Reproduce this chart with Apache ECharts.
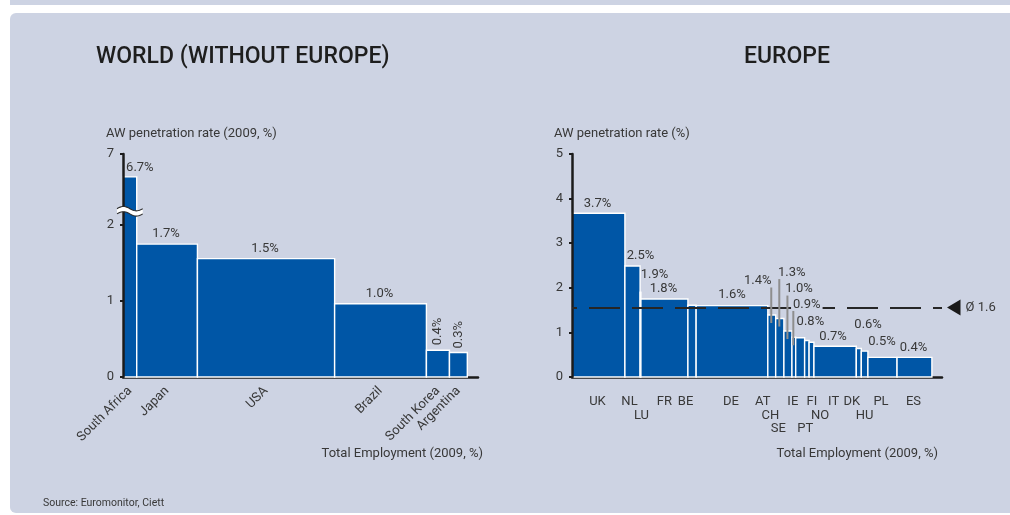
<!DOCTYPE html>
<html>
<head>
<meta charset="utf-8">
<script src="https://cdn.jsdelivr.net/npm/echarts@6/dist/echarts.min.js"></script>
<style>
html,body{margin:0;padding:0;background:#ffffff;}
#wrap{position:relative;width:1010px;height:515px;overflow:hidden;}
#strip{position:absolute;left:10px;top:0;width:1000px;height:5px;background:#cdd3e3;}
#panel{position:absolute;left:10px;top:13px;width:1000px;height:500px;background:#cdd3e3;border-radius:6px 0 0 6px;}
#c{position:absolute;left:0;top:0;width:1010px;height:515px;}
</style>
</head>
<body>
<div id="wrap"><div id="strip"></div><div id="panel"></div><div id="c"></div></div>
<script>
// ---------------- DATA ----------------
// World (without Europe): employment (millions) sets bar width, AW penetration rate sets height
const worldCountries = ['South Africa', 'Japan', 'USA', 'Brazil', 'South Korea', 'Argentina'];
const worldEmployment = [14.0, 61.9, 139.9, 93.6, 23.5, 18.2];
const worldRates = [6.7, 1.74, 1.55, 0.96, 0.35, 0.32];
const worldRateLabels = ['6.7%', '1.7%', '1.5%', '1.0%', '0.4%', '0.3%'];
const worldYTicks = [0, 1, 2, 7];

// Europe
const europeCountries = ['UK', 'NL', 'LU', 'FR', 'BE', 'DE', 'AT', 'CH', 'SE', 'IE', 'PT', 'FI', 'NO', 'IT', 'DK', 'HU', 'PL', 'ES'];
const europeEmployment = [29.6, 8.5, 0.45, 26.3, 4.6, 40.1, 4.4, 4.6, 4.5, 2.1, 5.0, 2.5, 2.7, 23.7, 2.8, 3.7, 16.3, 19.5];
const europeRates = [3.67, 2.49, 1.9, 1.75, 1.61, 1.6, 1.39, 1.31, 1.03, 0.89, 0.88, 0.82, 0.78, 0.69, 0.64, 0.58, 0.44, 0.44];
const europeRateLabels = ['3.7%', '2.5%', '1.9%', '1.8%', '', '1.6%', '1.4%', '1.3%', '1.0%', '0.9%', '', '0.8%', '', '0.7%', '', '0.6%', '0.5%', '0.4%'];
const europeAverage = 1.56;
const europeYTicks = [0, 1, 2, 3, 4, 5];

// ---------------- LAYOUT / STYLE ----------------
const BLUE = '#0056a6';
const TEXT = '#383838';
const AXIS = '#1b1b1b';
const FONT = 'Roboto';
const BREAK_LO = 2.17, BREAK_HI = 6.25;           // broken y-axis of the world chart
function toDisplay(v) { return v <= BREAK_LO ? v : v - (BREAK_HI - BREAK_LO); }
function fromDisplay(d) { return d <= BREAK_LO ? d : d + (BREAK_HI - BREAK_LO); }

// value label offsets (px) from bar top-centre
const worldValueLabelLayout = {
  'South Africa': { dx: 10, dy: -9 },
  'South Korea': { dx: 0, dy: -5, vertical: true },
  'Argentina': { dx: 0, dy: -4, vertical: true }
};
const europeValueLabelLayout = {
  UK: [-1, -10], NL: [8, -10], LU: [14, -18], FR: [-1, -10], DE: [0, -11],
  AT: [-14, -34], CH: [12, -46], SE: [11, -42], IE: [13, -33], FI: [3.5, -19],
  IT: [-2, -9.5], HU: [3.5, -26], PL: [-0.5, -16], ES: [-1, -9.5]
};
const europeLeaders = ['AT', 'CH', 'SE', 'IE'];
// country label offsets: [dx px, row]
const europeNameLayout = {
  UK: [-1, 0], NL: [-3, 0], LU: [1, 1], FR: [0, 0], BE: [-6.5, 0], DE: [-1, 0],
  AT: [-9, 0], CH: [-9.5, 1], SE: [-9.5, 2], IE: [-1, 0], PT: [5, 2], FI: [5, 0],
  NO: [8.5, 1], IT: [-1.5, 0], DK: [-7, 0], HU: [0, 1], PL: [-1.5, 0], ES: [-1, 0]
};

function spans(widths) {
  const out = []; let s = 0;
  widths.forEach(w => { out.push([s, s + w]); s += w; });
  return out;
}
const worldSpans = spans(worldEmployment);
const europeSpans = spans(europeEmployment);
const worldBarData = worldSpans.map((sp, i) => [sp[0], sp[1], toDisplay(worldRates[i]), i]);
const europeBarData = europeSpans.map((sp, i) => [sp[0], sp[1], europeRates[i], i]);
const worldCentres = worldSpans.map(sp => (sp[0] + sp[1]) / 2);
const WORLD_XMAX = 362, EUROPE_XMAX = 207;

function renderBar(params, api) {
  const p0 = api.coord([api.value(0), 0]);
  const p1 = api.coord([api.value(1), api.value(2)]);
  return {
    type: 'rect',
    shape: { x: p0[0], y: p1[1], width: p1[0] - p0[0], height: p0[1] - p1[1] },
    style: { fill: BLUE, stroke: '#ffffff', lineWidth: 1.4 }
  };
}

function renderWorldLabel(params, api) {
  const i = api.value(3);
  const name = worldCountries[i];
  const p = api.coord([(api.value(0) + api.value(1)) / 2, api.value(2)]);
  const lay = worldValueLabelLayout[name] || { dx: -1, dy: -10 };
  return {
    type: 'text',
    x: p[0] + lay.dx, y: p[1] + lay.dy,
    rotation: lay.vertical ? Math.PI / 2 : 0,
    style: {
      text: worldRateLabels[i], fill: TEXT, fontSize: 13, fontFamily: FONT,
      align: lay.vertical ? 'left' : 'center', verticalAlign: 'middle'
    }
  };
}

function renderBreak(params, api) {
  const a = api.coord([0, BREAK_LO]);
  const b = api.coord([worldEmployment[0], BREAK_LO]);
  const xL = a[0] - 6, xR = b[0] + 6, cy = a[1];
  const top = [], bot = [];
  const n = 24;
  for (let k = 0; k <= n; k++) {
    const t = k / n;
    const x = xL + (xR - xL) * t;
    const w = -2.2 * Math.sin(2 * Math.PI * t);
    top.push([x, cy - 2.6 + w]);
    bot.push([x, cy + 2.6 + w]);
  }
  return {
    type: 'group',
    children: [
      { type: 'polygon', shape: { points: top.concat(bot.slice().reverse()) }, style: { fill: '#ffffff' } },
      { type: 'polyline', shape: { points: top }, style: { stroke: '#2a2a2a', lineWidth: 1.1, fill: null } },
      { type: 'polyline', shape: { points: bot }, style: { stroke: '#2a2a2a', lineWidth: 1.1, fill: null } }
    ]
  };
}

function renderEuropeLabels(params, api) {
  const i = api.value(3);
  const name = europeCountries[i];
  const cxv = (api.value(0) + api.value(1)) / 2;
  const p = api.coord([cxv, api.value(2)]);
  const base = api.coord([cxv, 0]);
  const children = [];
  const lay = europeValueLabelLayout[name];
  if (europeRateLabels[i] && lay) {
    const lx = p[0] + lay[0], ly = p[1] + lay[1];
    if (europeLeaders.indexOf(name) >= 0) {
      children.push({
        type: 'line',
        shape: { x1: p[0] - 0.5, y1: ly + 6.5, x2: p[0] - 0.5, y2: p[1] + 8 },
        style: { stroke: '#8e8e8e', lineWidth: 2 }
      });
    }
    children.push({
      type: 'text', x: lx, y: ly,
      style: {
        text: europeRateLabels[i], fill: TEXT, fontSize: 13, fontFamily: FONT,
        align: 'center', verticalAlign: 'middle',
        backgroundColor: name === 'IE' ? '#cdd3e3' : null,
        padding: name === 'IE' ? [0, 2] : 0
      }
    });
  }
  const nl = europeNameLayout[name] || [0, 0];
  children.push({
    type: 'text', x: p[0] + nl[0], y: base[1] + 24.5 + nl[1] * 13.8,
    style: { text: name, fill: TEXT, fontSize: 13, fontFamily: FONT, align: 'center', verticalAlign: 'middle' }
  });
  return { type: 'group', children: children };
}

function renderAverageMarker(params, api) {
  const p = api.coord([api.value(0), api.value(1)]);
  const tipX = p[0] + 5, baseX = p[0] + 18.5;
  return {
    type: 'group',
    children: [
      { type: 'polygon', shape: { points: [[tipX, p[1]], [baseX, p[1] - 8], [baseX, p[1] + 8]] }, style: { fill: '#1a1a1a' } },
      {
        type: 'text', x: baseX + 5, y: p[1] + 0.5,
        style: { text: 'Ø ' + api.value(1).toFixed(1), fill: TEXT, fontSize: 13, fontFamily: FONT, align: 'left', verticalAlign: 'middle' }
      }
    ]
  };
}

const chart = echarts.init(document.getElementById('c'), null, { renderer: 'canvas', width: 1010, height: 515 });

const axisLineStyle = { color: AXIS, width: 2.5 };
const option = {
  animation: false,
  backgroundColor: 'transparent',
  textStyle: { fontFamily: FONT },
  grid: [
    { left: 123, top: 154, width: 355, height: 223, outerBoundsMode: 'none' },
    { left: 572, top: 154, width: 370, height: 223, outerBoundsMode: 'none' }
  ],
  xAxis: [
    {
      type: 'value', gridIndex: 0, min: 0, max: WORLD_XMAX,
      axisLine: { show: true, lineStyle: axisLineStyle },
      axisTick: { show: false }, splitLine: { show: false },
      axisLabel: {
        customValues: worldCentres, rotate: 45, margin: 12,
        fontSize: 13, color: TEXT, fontFamily: FONT,
        formatter: function (v) {
          let k = 0, best = Infinity;
          worldCentres.forEach((c, j) => { const d = Math.abs(c - v); if (d < best) { best = d; k = j; } });
          return worldCountries[k];
        }
      }
    },
    {
      type: 'value', gridIndex: 1, min: 0, max: EUROPE_XMAX,
      axisLine: { show: true, lineStyle: axisLineStyle },
      axisTick: { show: false }, splitLine: { show: false }, axisLabel: { show: false }
    }
  ],
  yAxis: [
    {
      type: 'value', gridIndex: 0, min: 0, max: toDisplay(worldYTicks[worldYTicks.length - 1]), z: 3,
      axisLine: { show: true, lineStyle: axisLineStyle },
      axisTick: { show: true, length: 3, customValues: worldYTicks.map(toDisplay), lineStyle: { color: AXIS, width: 2 } },
      splitLine: { show: false },
      axisLabel: {
        customValues: worldYTicks.map(toDisplay), margin: 9, fontSize: 13, color: TEXT, fontFamily: FONT,
        formatter: function (v) { return String(Math.round(fromDisplay(v))); }
      }
    },
    {
      type: 'value', gridIndex: 1, min: europeYTicks[0], max: europeYTicks[europeYTicks.length - 1], interval: 1, z: 3,
      axisLine: { show: true, lineStyle: axisLineStyle },
      axisTick: { show: true, length: 3, lineStyle: { color: AXIS, width: 2 } },
      splitLine: { show: false },
      axisLabel: { margin: 9, fontSize: 13, color: TEXT, fontFamily: FONT }
    }
  ],
  graphic: [
    { type: 'text', left: 96, top: 46, style: { text: 'WORLD (WITHOUT EUROPE)', fill: '#1e1e1e', fontSize: 23, fontWeight: 500, fontFamily: FONT } },
    { type: 'text', left: 744, top: 46, style: { text: 'EUROPE', fill: '#1e1e1e', fontSize: 23, fontWeight: 500, fontFamily: FONT } },
    { type: 'text', left: 106, top: 127, style: { text: 'AW penetration rate (2009, %)', fill: TEXT, fontSize: 13, fontFamily: FONT } },
    { type: 'text', left: 554, top: 127, style: { text: 'AW penetration rate (%)', fill: TEXT, fontSize: 13, fontFamily: FONT } },
    { type: 'text', right: 527, top: 447, style: { text: 'Total Employment (2009, %)', fill: TEXT, fontSize: 13, fontFamily: FONT } },
    { type: 'text', right: 72, top: 447, style: { text: 'Total Employment (2009, %)', fill: TEXT, fontSize: 13, fontFamily: FONT } },
    { type: 'text', left: 43, top: 498, style: { text: 'Source: Euromonitor, Ciett', fill: TEXT, fontSize: 10.5, fontFamily: FONT } }
  ],
  series: [
    {
      type: 'custom', name: 'world', xAxisIndex: 0, yAxisIndex: 0, z: 2,
      encode: { x: [0, 1], y: 2 }, data: worldBarData, renderItem: renderBar
    },
    {
      type: 'custom', name: 'worldLabels', xAxisIndex: 0, yAxisIndex: 0, z: 6,
      encode: { x: [0, 1], y: 2 }, data: worldBarData, renderItem: renderWorldLabel
    },
    {
      type: 'custom', name: 'break', xAxisIndex: 0, yAxisIndex: 0, z: 7,
      encode: { x: 0, y: 1 }, data: [[0, BREAK_LO]], renderItem: renderBreak
    },
    {
      type: 'custom', name: 'europe', xAxisIndex: 1, yAxisIndex: 1, z: 2,
      encode: { x: [0, 1], y: 2 }, data: europeBarData, renderItem: renderBar,
      markLine: {
        silent: true, symbol: ['none', 'none'], z: 4,
        label: { show: false },
        lineStyle: { color: '#262626', width: 2, type: [31, 12], dashOffset: 26 },
        data: [{ yAxis: europeAverage }]
      }
    },
    {
      type: 'custom', name: 'europeLabels', xAxisIndex: 1, yAxisIndex: 1, z: 6,
      encode: { x: [0, 1], y: 2 }, data: europeBarData, renderItem: renderEuropeLabels
    },
    {
      type: 'custom', name: 'average', xAxisIndex: 1, yAxisIndex: 1, z: 6,
      encode: { x: 0, y: 1 }, data: [[EUROPE_XMAX, europeAverage]], renderItem: renderAverageMarker
    }
  ]
};
chart.setOption(option);
</script>
</body>
</html>
